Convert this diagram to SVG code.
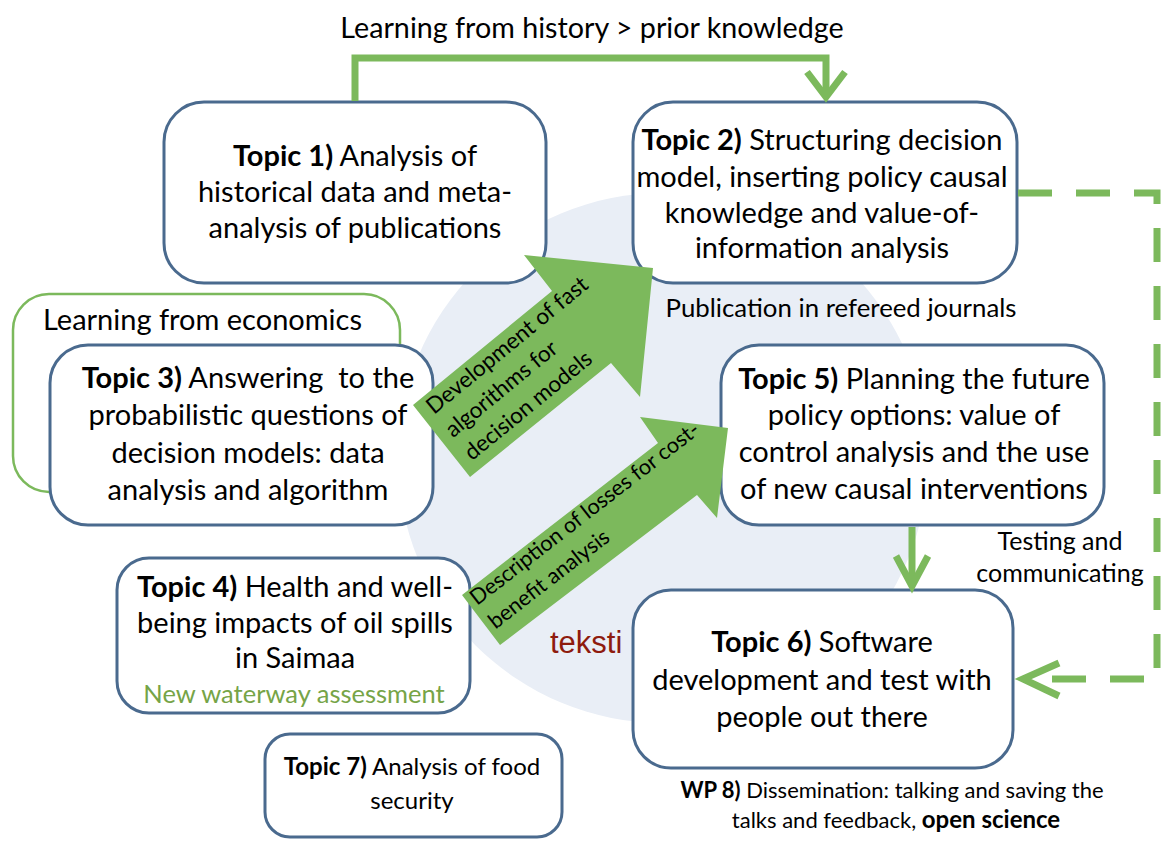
<svg xmlns="http://www.w3.org/2000/svg" width="1161" height="843" viewBox="0 0 1161 843">
<style>
.box{fill:#fff;stroke:#4A6A8E;stroke-width:3}
.t{font-family:Lato,"Open Sans",sans-serif;fill:#000}
.bt{font-size:29px;text-anchor:middle}
.b{font-weight:bold}
.g{fill:none;stroke:#7CB95C;stroke-width:7}
.fat{fill:#7CB95C}
</style>
<rect width="1161" height="843" fill="#fff"/>
<circle cx="663" cy="458" r="265" fill="#E9EEF6"/>
<g id="economics">
<rect x="13" y="294" width="387" height="198" rx="36" fill="#fff" stroke="#7CB95C" stroke-width="2.5"/>
<text class="t" x="43" y="330" font-size="29">Learning from economics</text>
</g>
<g id="topic1">
<rect class="box" x="164" y="102" width="382" height="181" rx="40"/>
<text class="t bt"><tspan x="355" y="166"><tspan class="b">Topic 1)</tspan> Analysis of</tspan><tspan x="355" y="202">historical data and meta-</tspan><tspan x="355" y="238">analysis of publications</tspan></text>
</g>
<g id="topic2">
<rect class="box" x="633" y="102" width="384" height="181" rx="40"/>
<text class="t bt"><tspan x="822" y="150"><tspan class="b">Topic 2)</tspan> Structuring decision</tspan><tspan x="822" y="187">model, inserting policy causal</tspan><tspan x="822" y="223">knowledge and value-of-</tspan><tspan x="822" y="258">information analysis</tspan></text>
</g>
<text class="t" x="841" y="317" font-size="25.8" text-anchor="middle">Publication in refereed journals</text>
<g id="topic3">
<rect class="box" x="50" y="345" width="383" height="180" rx="38"/>
<text class="t bt" style="white-space:pre"><tspan x="248" y="388"><tspan class="b">Topic 3)</tspan> Answering  to the</tspan><tspan x="248" y="425">probabilistic questions of</tspan><tspan x="248" y="463">decision models: data</tspan><tspan x="248" y="500">analysis and algorithm</tspan></text>
</g>
<g id="topic5">
<rect class="box" x="721" y="345" width="383" height="180" rx="38"/>
<text class="t bt"><tspan x="914" y="389"><tspan class="b">Topic 5)</tspan> Planning the future</tspan><tspan x="914" y="425">policy options: value of</tspan><tspan x="914" y="462">control analysis and the use</tspan><tspan x="914" y="499">of new causal interventions</tspan></text>
</g>
<text class="t" font-size="25" text-anchor="middle"><tspan x="1060" y="550">Testing and</tspan><tspan x="1060" y="582">communicating</tspan></text>
<g id="topic4">
<rect class="box" x="117" y="558" width="353" height="155" rx="32"/>
<text class="t bt"><tspan x="295" y="597"><tspan class="b">Topic 4)</tspan> Health and well-</tspan><tspan x="295" y="633">being impacts of oil spills</tspan><tspan x="295" y="668">in Saimaa</tspan></text>
<text class="t" x="294" y="703" font-size="25.5" text-anchor="middle" style="fill:#76A447">New waterway assessment</text>
</g>
<text x="550" y="653" font-family="Liberation Sans,Arial,sans-serif" font-size="31" fill="#8E1B0E">teksti</text>
<g id="topic6">
<rect class="box" x="633" y="590" width="380" height="178" rx="38"/>
<text class="t bt"><tspan x="822" y="652"><tspan class="b">Topic 6)</tspan> Software</tspan><tspan x="822" y="690">development and test with</tspan><tspan x="822" y="727">people out there</tspan></text>
</g>
<g id="topic7">
<rect class="box" x="265" y="734" width="297" height="103" rx="25"/>
<text class="t" font-size="24" text-anchor="middle"><tspan x="412" y="775"><tspan class="b">Topic 7)</tspan> Analysis of food</tspan><tspan x="412" y="809">security</tspan></text>
</g>
<g id="wp8">
<text class="t" font-size="22" text-anchor="middle"><tspan x="892" y="798"><tspan class="b">WP 8)</tspan> Dissemination: talking and saving the</tspan><tspan x="896" y="828">talks and feedback, <tspan class="b" font-size="24">open science</tspan></tspan></text>
</g>
<text class="t" x="592" y="38" font-size="28.7" text-anchor="middle">Learning from history &gt; prior knowledge</text>
<g id="connectors">
<polyline class="g" points="355,101 355,58 826,58 826,96"/>
<polyline class="g" points="807,72 826,97 845,72"/>
<line class="g" x1="912" y1="527" x2="912" y2="585"/>
<polyline class="g" points="896,556 912,586 928,556"/>
<path class="g" d="M1018,193 H1157 V679 H1026" stroke-dasharray="34 24"/>
<polyline class="g" points="1059,663 1023,679 1059,696"/>
<polygon class="fat" points="413,405 552,291 524,255 653,268 640,397 611,363 470,477"/>
<text class="t" font-size="22.5" transform="translate(434,415) rotate(-39.4)"><tspan x="0" y="0">Development of fast</tspan><tspan x="0" y="30">algorithms for</tspan><tspan x="0" y="60">decision models</tspan></text>
<polygon class="fat" points="462,595 658,443 640,417 728,428 717,518 697,495 500,645"/>
<text class="t" font-size="21.7" transform="translate(477,606) rotate(-37.8)"><tspan x="0" y="0">Description of losses for cost-</tspan><tspan x="0" y="30">benefit analysis</tspan></text>
</g>
</svg>
